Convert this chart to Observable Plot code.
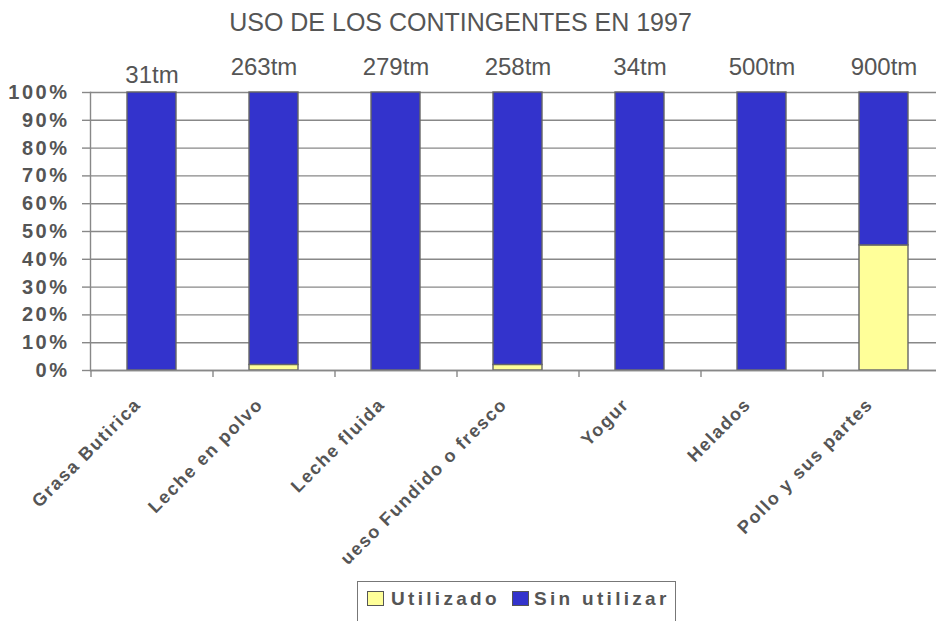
<!DOCTYPE html>
<html>
<head>
<meta charset="utf-8">
<script src="https://cdn.jsdelivr.net/npm/d3@7"></script>
<script src="https://cdn.jsdelivr.net/npm/@observablehq/plot@0.6"></script>
<style>
  html, body { margin: 0; padding: 0; background: #fff; }
  svg { display: block; }
</style>
</head>
<body>
<div id="chart"></div>
<script>
const titulo = "USO DE LOS CONTINGENTES EN 1997";
const categorias = ["Grasa Butirica", "Leche en polvo", "Leche fluida", "Queso Fundido o fresco", "Yogur", "Helados", "Pollo y sus partes"];
const etiquetasX = ["Grasa Butirica", "Leche en polvo", "Leche fluida", "ueso Fundido o fresco", "Yogur", "Helados", "Pollo y sus partes"];
const utilizado = [0, 0.02, 0, 0.02, 0, 0, 0.45];
const sinUtilizar = [1, 0.98, 1, 0.98, 1, 1, 0.55];
const toneladas = ["31tm", "263tm", "279tm", "258tm", "34tm", "500tm", "900tm"];
const series = ["Utilizado", "Sin utilizar"];
const colores = ["#FFFF99", "#3333CC"];
const ticksY = [0, 0.1, 0.2, 0.3, 0.4, 0.5, 0.6, 0.7, 0.8, 0.9, 1];

const datos = [];
categorias.forEach((c, i) => {
  datos.push({cat: c, serie: series[0], v: utilizado[i]});
  datos.push({cat: c, serie: series[1], v: sinUtilizar[i]});
});
const font = "'Liberation Sans', Arial, sans-serif";
const gris = "#555";

const legend = () => {
  const g = d3.create("svg:g").attr("font-family", font);
  g.append("rect").attr("x", 357.5).attr("y", 581.5).attr("width", 318).attr("height", 50)
    .attr("fill", "white").attr("stroke", "#777");
  const items = [{x: 367, tx: 391}, {x: 512, tx: 534}];
  items.forEach((it, i) => {
    g.append("rect").attr("x", it.x + 0.5).attr("y", 591.5).attr("width", 16).attr("height", 14)
      .attr("fill", colores[i]).attr("stroke", "#555");
    g.append("text").attr("x", it.tx).attr("y", 605).text(series[i])
      .attr("text-anchor", "start")
      .attr("font-size", 19).attr("font-weight", "bold").attr("fill", gris)
      .attr("letter-spacing", 3.3);
  });
  return g.node();
};

const chart = Plot.plot({
  width: 936,
  height: 621,
  marginTop: 92,
  marginBottom: 251,
  marginLeft: 90,
  marginRight: 0,
  style: {fontFamily: font, background: "white"},
  x: {domain: categorias, range: [90, 944], paddingInner: 0.6, paddingOuter: 0.3, align: 0.5, axis: null},
  y: {domain: [0, 1], axis: null},
  color: {domain: series, range: colores},
  marks: [
    Plot.gridY(ticksY, {stroke: "#888", strokeOpacity: 1, strokeWidth: 1.4}),
    Plot.barY(datos, Plot.stackY({x: "cat", y: "v", fill: "serie", order: series, stroke: "#666", strokeWidth: 1.4})),
    Plot.ruleY([0], {stroke: "#888", strokeWidth: 1.4}),
    Plot.frame({anchor: "left", stroke: "#888", strokeWidth: 1.4}),
    Plot.axisY(ticksY, {tickFormat: d3.format(".0%"), tickSize: 8, tickPadding: 13, fontSize: 20, fontWeight: "bold", fill: gris, stroke: "#888", strokeWidth: 1.4, label: null}),
    Plot.ruleX(categorias, {x: d => d, dx: -61, y1: 0, y2: -0.025, stroke: "#888", strokeWidth: 1.4, clip: false}),
    Plot.text(categorias, {ariaDescription: "xlabels", x: d => d, y: 0, text: (d, i) => etiquetasX[i], rotate: -45, textAnchor: "end", dx: -14, dy: 31, fontSize: 18, fontWeight: "bold", fill: gris}),
    Plot.text(categorias, {filter: (d, i) => i === 0, x: d => d, y: 1, text: (d, i) => toneladas[0], dy: -17, fontSize: 24, fill: gris}),
    Plot.text(categorias, {filter: (d, i) => i === 1, x: d => d, y: 1, text: (d, i) => toneladas[1], dx: -10, dy: -25, fontSize: 24, fill: gris}),
    Plot.text(categorias, {filter: (d, i) => i > 1, x: d => d, y: 1, text: (d, i) => toneladas[i], dy: -25, fontSize: 24, fill: gris}),
    Plot.text([titulo], {frameAnchor: "top", dx: -53, dy: -79, fontSize: 25, fill: gris}),
    legend
  ]
});
d3.select(chart).selectAll('g[aria-description="xlabels"]').attr("letter-spacing", "1.6px");
d3.select(chart).selectAll('g[aria-label="y-axis tick label"]').attr("letter-spacing", "2.5px");
document.getElementById("chart").append(chart);
</script>
</body>
</html>
